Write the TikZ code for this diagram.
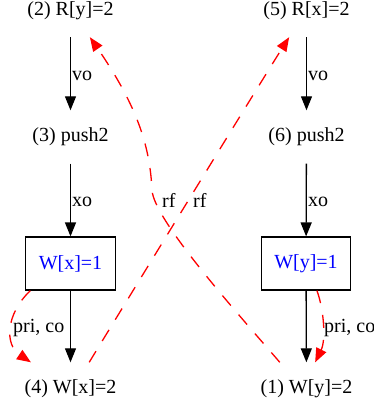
\documentclass[tikz,border=0pt]{standalone}
\usepackage{fontspec}
\setmainfont{Liberation Serif}
\usetikzlibrary{arrows.meta}
\begin{document}
\begin{tikzpicture}[x=1pt,y=-1pt, font=\fontsize{20}{24}\selectfont,
  lbl/.style={inner sep=0pt, minimum width=96pt, minimum height=53pt},
  evbox/.style={draw, line width=1.2pt, inner sep=0pt, minimum width=89.5pt, minimum height=53pt, text=blue},
  po/.style={line width=1.3pt, -{Triangle[length=14pt,width=11pt]}},
  rel/.style={red, line width=1.3pt, dash pattern=on 13pt off 12pt, -{Triangle[length=14pt,width=11pt]}},
  elab/.style={inner sep=0pt, anchor=base west}]
\path[use as bounding box, clip] (0,0) rectangle (374,408);
% left column
\node[lbl] (n2) at (70.5,10.5) {(2) R[y]=2};
\node[lbl] (n3) at (70.5,137) {(3) push2};
\node[evbox] (wx) at (70.5,263.5) {W[x]=1};
\node[lbl] (n4) at (70.5,389) {(4) W[x]=2};
% right column
\node[lbl] (n5) at (306.5,10.5) {(5) R[x]=2};
\node[lbl] (n6) at (306.5,137) {(6) push2};
\node[evbox] (wy) at (306,263.5) {W[y]=1};
\node[lbl] (n1) at (306.5,389) {(1) W[y]=2};
% program order edges
\draw[po] (n2) -- (n3);
\draw[po] (n3) -- (wx);
\draw[po] (wx) -- (n4);
\draw[po] (n5) -- (n6);
\draw[po] (n6) -- (wy);
\draw[po] (wy) -- (n1);
\node[elab] (lvo1) at (72,80) {vo};
\node[elab] (lxo1) at (72,206) {xo};
\node[elab] (lvo2) at (308,80) {vo};
\node[elab] (lxo2) at (308,206) {xo};
% rf edges
\draw[rel] (n4.55) .. controls (118,315) and (262,80) .. (n5.237);
\draw[rel] (n1.135) .. controls (240,316) and (153.5,220) .. (152,190) .. controls (150,150) and (140,110) .. (n2.306);
\node[elab] (lrf1) at (162,207) {rf};
\node[elab] (lrf2) at (193,207) {rf};
% pri, co edges
\draw[rel] (wx.214) .. controls (5,315) and (5,345) .. (n4.146);
\draw[rel] (wy.292) .. controls (324,310) and (326,340) .. (n1.72);
\node[elab] (lpc1) at (13,332) {pri, co};
\node[elab] (lpc2) at (324,332) {pri, co};
\end{tikzpicture}
\end{document}
